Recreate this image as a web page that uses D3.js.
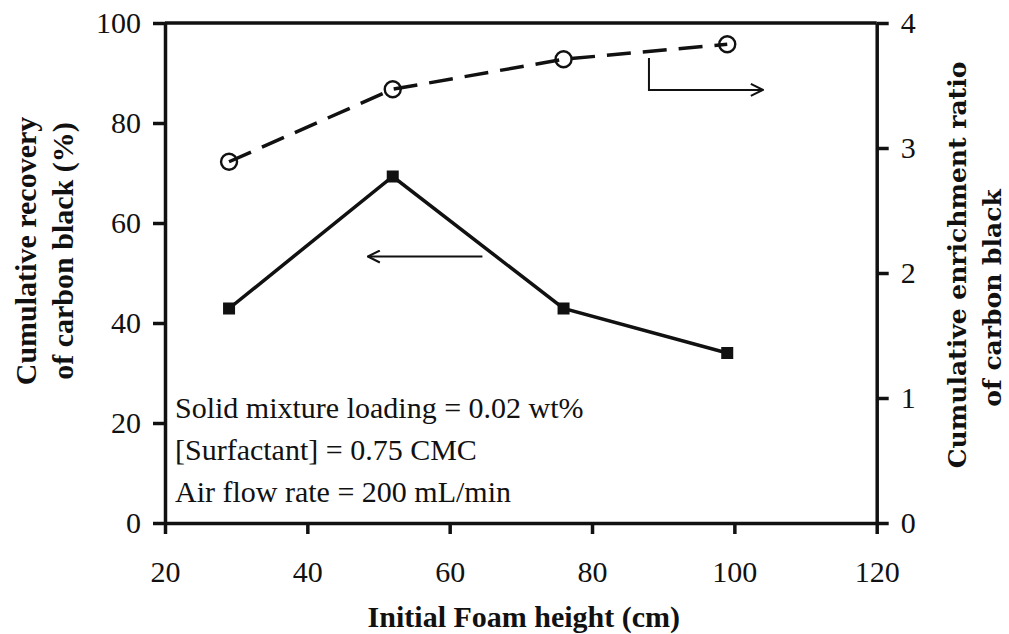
<!DOCTYPE html>
<html>
<head>
<meta charset="utf-8">
<script src="https://cdn.jsdelivr.net/npm/d3@7"></script>
<style>
  html, body { margin: 0; padding: 0; background: #fff; }
  svg { display: block; }
</style>
</head>
<body>
<svg id="chart" width="1009" height="634"></svg>
<script>
// Initial foam height (cm)
const foamHeight = [29, 52, 76, 99];
// Cumulative recovery of carbon black (%) — left axis
const recovery = [42.9, 69.3, 42.9, 34.0];
// Cumulative enrichment ratio of carbon black — right axis
const enrichment = [2.89, 3.47, 3.71, 3.83];

const xTicks = [20, 40, 60, 80, 100, 120];
const yLeftTicks = [0, 20, 40, 60, 80, 100];
const yRightTicks = [0, 1, 2, 3, 4];

const conditions = [
  "Solid mixture loading = 0.02 wt%",
  "[Surfactant] = 0.75 CMC",
  "Air flow rate = 200 mL/min"
];

const W = 1009, H = 634;
const plot = { left: 165, right: 876.7, top: 23, bottom: 523 };
const ink = "#111";
const serif = "Liberation Serif, Times New Roman, serif";

const svg = d3.select("#chart");

const x = d3.scaleLinear().domain([20, 120]).range([plot.left, plot.right]);
const yL = d3.scaleLinear().domain([0, 100]).range([plot.bottom, plot.top]);
const yR = d3.scaleLinear().domain([0, 4]).range([plot.bottom, plot.top]);

const fmt = d3.format("d");

function styleAxis(g) {
  g.attr("font-family", serif).attr("font-size", 30);
  g.select(".domain").attr("stroke", ink).attr("stroke-width", 3.5);
  g.selectAll(".tick line").attr("stroke", ink).attr("stroke-width", 3.5);
  g.selectAll(".tick text").attr("fill", ink);
}

// top frame line
svg.append("line")
  .attr("x1", plot.left).attr("x2", plot.right)
  .attr("y1", plot.top).attr("y2", plot.top)
  .attr("stroke", ink).attr("stroke-width", 3.5);

svg.append("g")
  .attr("transform", `translate(0,${plot.bottom})`)
  .call(d3.axisBottom(x).tickValues(xTicks).tickFormat(fmt).tickSize(11).tickSizeOuter(0).tickPadding(27))
  .call(styleAxis);

svg.append("g")
  .attr("transform", `translate(${plot.left},0)`)
  .call(d3.axisLeft(yL).tickValues(yLeftTicks).tickFormat(fmt).tickSize(12).tickSizeOuter(0).tickPadding(12))
  .call(styleAxis);

svg.append("g")
  .attr("transform", `translate(${plot.right},0)`)
  .call(d3.axisRight(yR).tickValues(yRightTicks).tickFormat(fmt).tickSize(12).tickSizeOuter(0).tickPadding(12))
  .call(styleAxis);

// recovery series (solid line, filled squares)
const recPts = foamHeight.map((h, i) => [h, recovery[i]]);
svg.append("path")
  .datum(recPts)
  .attr("fill", "none").attr("stroke", ink).attr("stroke-width", 3.5)
  .attr("stroke-linejoin", "miter")
  .attr("d", d3.line().x(d => x(d[0])).y(d => yL(d[1])));
svg.selectAll(".sq").data(recPts).enter().append("rect")
  .attr("x", d => x(d[0]) - 6).attr("y", d => yL(d[1]) - 6)
  .attr("width", 12).attr("height", 12).attr("fill", ink);

// enrichment series (dashed line, open circles)
const enrPts = foamHeight.map((h, i) => [h, enrichment[i]]);
svg.append("path")
  .datum(enrPts)
  .attr("fill", "none").attr("stroke", ink).attr("stroke-width", 3.5)
  .attr("stroke-dasharray", "24,12")
  .attr("d", d3.line().x(d => x(d[0])).y(d => yR(d[1])));
svg.selectAll(".circ").data(enrPts).enter().append("circle")
  .attr("cx", d => x(d[0])).attr("cy", d => yR(d[1]))
  .attr("r", 8).attr("fill", "none").attr("stroke", ink).attr("stroke-width", 2.4);

// arrows pointing each series to its axis
const defs = svg.append("defs");
defs.append("marker")
  .attr("id", "chev").attr("markerUnits", "userSpaceOnUse")
  .attr("viewBox", "0 -7 14 14").attr("refX", 13).attr("refY", 0)
  .attr("markerWidth", 14).attr("markerHeight", 14).attr("orient", "auto")
  .append("path").attr("d", "M1,-6 L13,0 L1,6")
  .attr("fill", "none").attr("stroke", ink).attr("stroke-width", 2);

svg.append("path")
  .attr("d", `M${x(64.6)},${yL(53.3)} L${x(48.5)},${yL(53.3)}`)
  .attr("fill", "none").attr("stroke", ink).attr("stroke-width", 2)
  .attr("marker-end", "url(#chev)");

svg.append("path")
  .attr("d", `M${x(88.0)},${yR(3.72)} L${x(88.0)},${yR(3.465)} L${x(104.0)},${yR(3.465)}`)
  .attr("fill", "none").attr("stroke", ink).attr("stroke-width", 2)
  .attr("marker-end", "url(#chev)");

// experimental conditions
svg.append("g").selectAll("text").data(conditions).enter().append("text")
  .attr("x", plot.left + 10)
  .attr("y", (d, i) => 418 + i * 42)
  .attr("font-family", serif)
  .attr("font-size", 30).attr("fill", ink)
  .text(d => d);

// axis titles
svg.append("text")
  .attr("x", (plot.left + plot.right) / 2 + 3).attr("y", 627)
  .attr("text-anchor", "middle")
  .attr("font-family", serif)
  .attr("font-weight", "bold").attr("font-size", 30).attr("fill", ink)
  .text("Initial Foam height (cm)");

const leftTitle = ["Cumulative recovery", "of carbon black (%)"];
svg.append("g").selectAll("text").data(leftTitle).enter().append("text")
  .attr("transform", (d, i) => `translate(${36 + i * 37},251) rotate(-90)`)
  .attr("text-anchor", "middle")
  .attr("font-family", serif)
  .attr("font-weight", "bold").attr("font-size", 30).attr("fill", ink)
  .text(d => d);

const rightTitle = [
  { t: "Cumulative enrichment ratio", bx: 966, cy: 265 },
  { t: "of carbon black", bx: 1001, cy: 298 }
];
svg.append("g").selectAll("text").data(rightTitle).enter().append("text")
  .attr("transform", d => `translate(${d.bx},${d.cy}) rotate(-90)`)
  .attr("text-anchor", "middle")
  .attr("font-family", "DejaVu Serif, serif")
  .attr("font-weight", "bold").attr("font-size", 25).attr("fill", ink)
  .text(d => d.t);
</script>
</body>
</html>
